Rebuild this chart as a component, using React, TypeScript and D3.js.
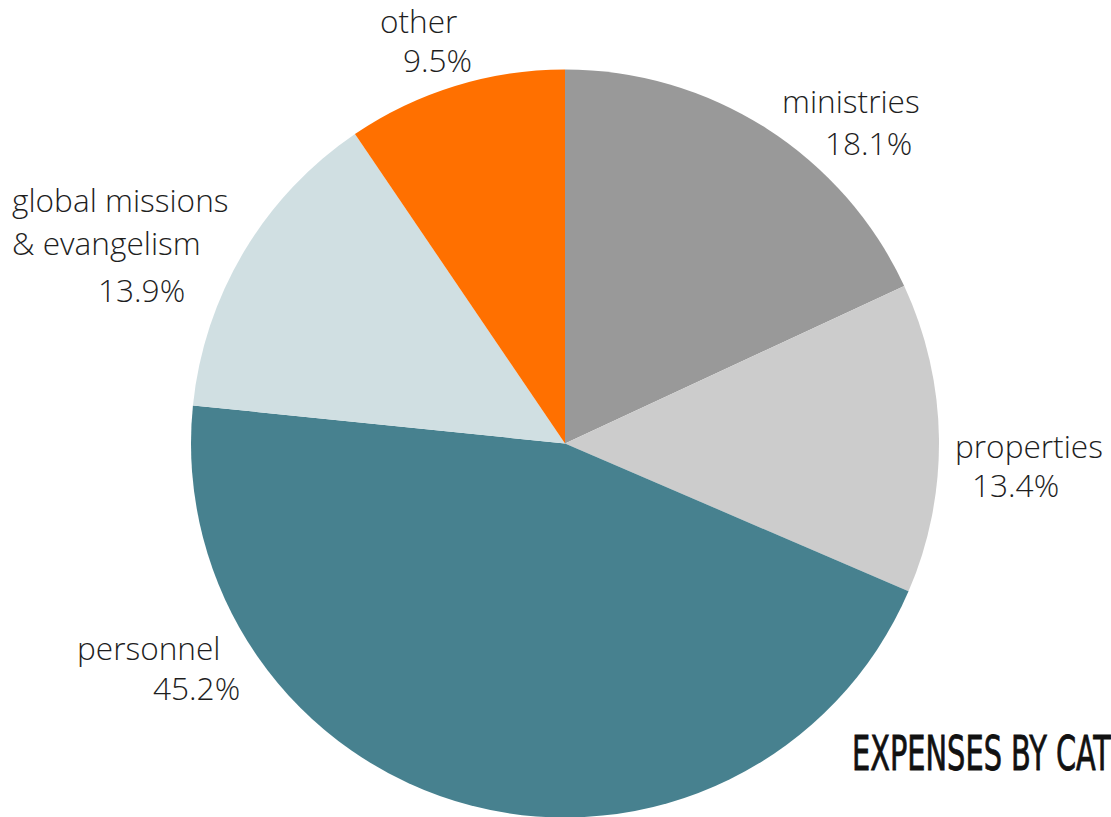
import React from "react";
import * as d3 from "d3";

const categories = ["ministries", "properties", "personnel", "global missions & evangelism", "other"];
const values = [18.1, 13.4, 45.2, 13.9, 9.5];
const colors = ["#999999", "#cccccc", "#47818f", "#d0dfe2", "#ff7000"];
const labelLines = [["ministries"], ["properties"], ["personnel"], ["global missions", "& evangelism"], ["other"]];
const pctLabels = ["18.1%", "13.4%", "45.2%", "13.9%", "9.5%"];

const W = 1111, H = 817;
const cx = 565, cy = 443.5, R = 374;

// label layout: [x of name, baseline of first line, x of pct, baseline of pct]
const labelPos = [
  [782, 113, 825, 155],
  [955, 458, 972, 497],
  [77, 660, 153, 700],
  [12, 212, 98, 302],
  [380, 33, 403, 72],
];

export default function App() {
  const pie = d3.pie<number>().sort(null).value((d) => d);
  const arcs = pie(values);
  const arc = d3.arc<d3.PieArcDatum<number>>().innerRadius(0).outerRadius(R);
  const fontFamily = "'Open Sans', sans-serif";
  return (
    <svg width={W} height={H} style={{ position: "absolute", left: 0, top: 0 }}>
      <rect width={W} height={H} fill="#fff" />
      <g transform={`translate(${cx},${cy})`}>
        {arcs.map((a, i) => (
          <path key={categories[i]} d={arc(a) || ""} fill={colors[i]} />
        ))}
      </g>
      {labelLines.map((lines, i) => {
        const [nx, ny, px, py] = labelPos[i];
        return (
          <g key={i} fontFamily={fontFamily} fontWeight={300} fontSize={31.6} fill="#1e1e1e">
            {lines.map((l, j) => (
              <text key={j} x={nx} y={ny + j * 43}>{l}</text>
            ))}
            <text x={px} y={py}>{pctLabels[i]}</text>
          </g>
        );
      })}
      <text
        x={852}
        y={770}
        fontFamily="'Liberation Sans Narrow', 'DejaVu Sans Condensed', sans-serif"
        fontSize={48}
        fontWeight={400}
        fill="#111"
        stroke="#111"
        strokeWidth={0.8}
        transform="translate(852,770) scale(0.668,1) translate(-852,-770)"
      >
        EXPENSES BY CATEGORY
      </text>
    </svg>
  );
}
